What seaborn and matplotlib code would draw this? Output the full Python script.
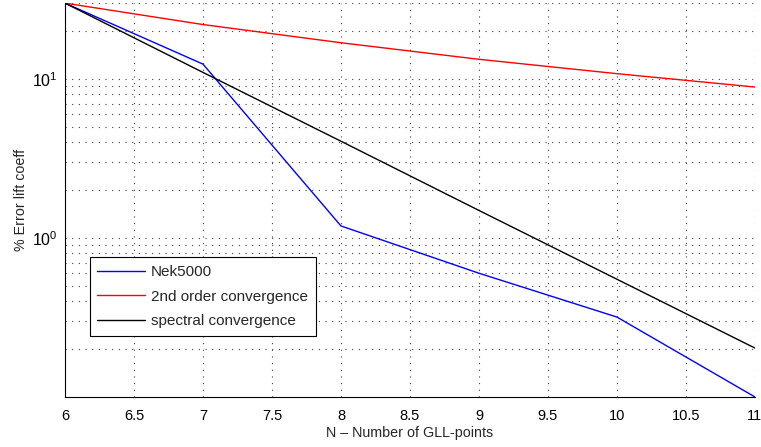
import numpy as np
import pandas as pd
import seaborn as sns
import matplotlib
matplotlib.use("Agg")
import matplotlib.pyplot as plt
from matplotlib.ticker import FixedLocator, NullFormatter, LogFormatterSciNotation

N = [6, 7, 8, 9, 10, 11]
nek5000 = [30.0, 12.4, 1.19, 0.60, 0.318, 0.10]
second_order = [30.0, 22.0, 16.9, 13.3, 10.8, 8.9]
spectral = [30.0, 11.0, 4.06, 1.49, 0.55, 0.203]
labels = ["Nek5000", "2nd order convergence", "spectral convergence"]
colors = ["#0000ff", "#ff0000", "#000000"]

sns.set_style("white")
plt.rcParams['font.family'] = ['Liberation Sans', 'DejaVu Sans']
plt.rcParams['mathtext.fontset'] = 'custom'
plt.rcParams['mathtext.rm'] = 'Liberation Sans'
plt.rcParams['mathtext.it'] = 'Liberation Sans'

df = pd.concat([
    pd.DataFrame({"N": N, "err": v, "series": lab})
    for v, lab in zip([nek5000, second_order, spectral], labels)
])

fig = plt.figure(figsize=(7.61, 4.47), dpi=100)
ax = fig.add_axes([0.0854, 0.112, 0.9066, 0.881])
sns.lineplot(data=df, x="N", y="err", hue="series", palette=dict(zip(labels, colors)),
             ax=ax, linewidth=1.0, legend=True)
ax.set_yscale("log")
ax.set_xlim(6, 11)
ax.set_ylim(0.1, 30)
ax.set_xticks(np.arange(6, 11.01, 0.5))
ax.set_xticklabels(["6", "6.5", "7", "7.5", "8", "8.5", "9", "9.5", "10", "10.5", "11"])
ax.yaxis.set_major_locator(FixedLocator([1, 10]))
ax.yaxis.set_major_formatter(LogFormatterSciNotation())
minors = [m * 10.0 ** e for e in (-1, 0, 1) for m in range(2, 10) if m * 10.0 ** e <= 30]
ax.yaxis.set_minor_locator(FixedLocator(minors))
ax.yaxis.set_minor_formatter(NullFormatter())

grid_kw = dict(color="#404040", linestyle=(0, (1, 5)), linewidth=0.8)
ax.grid(True, which="major", axis="both", **grid_kw)
ax.grid(True, which="minor", axis="y", **grid_kw)
ax.set_axisbelow(True)

for s in ["top", "right"]:
    ax.spines[s].set_visible(False)
for s in ["left", "bottom"]:
    ax.spines[s].set_color("black")
    ax.spines[s].set_linewidth(0.8)
ax.tick_params(axis="x", which="major", direction="in", length=5, width=0.8,
               labelsize=10.5, colors="black", pad=9)
ax.tick_params(axis="y", which="major", direction="in", length=5, width=0.8,
               labelsize=11.5, colors="black", pad=5)
ax.tick_params(axis="y", which="minor", direction="in", length=3, width=0.6)

ax.set_xlabel("N \u2013 Number of GLL-points", fontsize=10.3, labelpad=2)
ax.set_ylabel("% Error lift coeff", fontsize=10.3, labelpad=3)

leg = ax.legend(loc="lower left", bbox_to_anchor=(0.036, 0.155), borderaxespad=0,
                fontsize=11, frameon=True, fancybox=False, edgecolor="black",
                framealpha=1, handlelength=3.1, borderpad=0.5, labelspacing=0.7,
                handletextpad=0.4)
leg.get_frame().set_linewidth(0.8)
leg.set_title(None)

fig.savefig("out.png", dpi=100)
